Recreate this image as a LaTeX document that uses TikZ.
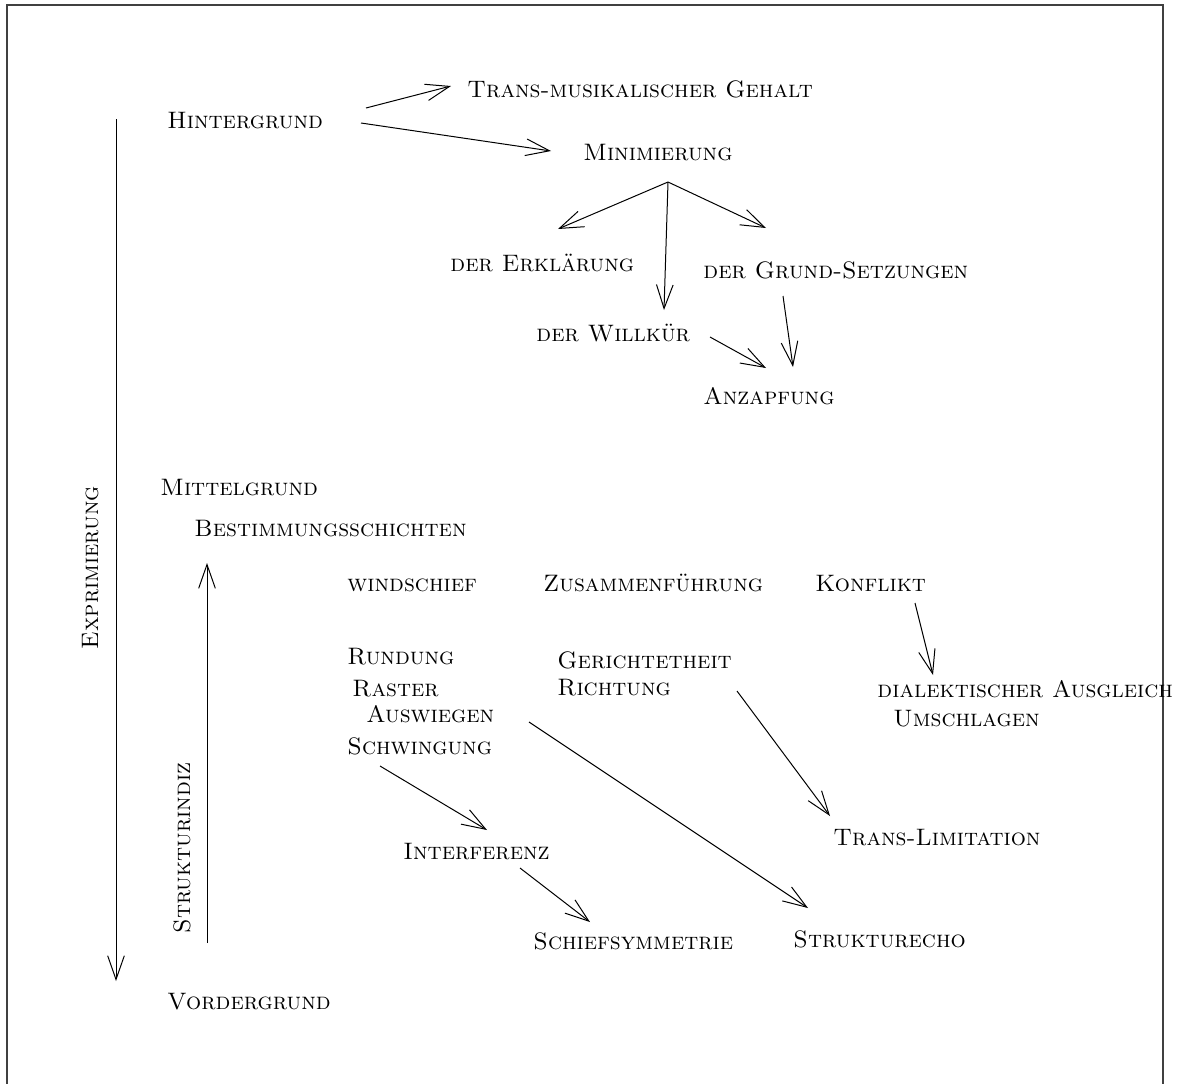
\documentclass[tikz,border=0pt]{standalone}
\usetikzlibrary{arrows.meta}
\begin{document}
\begin{tikzpicture}[x=0.42pt,y=-0.42pt,
  lbl/.style={anchor=base west, inner sep=0pt, font=\scshape},
  arr/.style={-{Straight Barb[length=10pt,width=7pt]}, line width=0.42pt}]
\useasboundingbox (0,0) rectangle (1182,1083);
\begin{scope}
\clip (0,0) rectangle (1182,1083);
\draw[line width=0.5pt, black!75] (7,5) rectangle (1163,1110);
\end{scope}
% nodes
\node[lbl] (hint)  at (167,128) {Hintergrund};
\node[lbl] (trans) at (467,97)  {Trans-musikalischer Gehalt};
\node[lbl] (mini)  at (583,160) {Minimierung};
\node[lbl] (erk)   at (450,271) {der Erklärung};
\node[lbl] (grund) at (703,278) {der Grund-Setzungen};
\node[lbl] (will)  at (536,341) {der Willkür};
\node[lbl] (anz)   at (703,404) {Anzapfung};
\node[lbl] (mittel) at (160,495) {Mittelgrund};
\node[lbl] (best)  at (194,536) {Bestimmungsschichten};
\node[lbl] (wind)  at (347,591) {windschief};
\node[lbl] (zus)   at (543,591) {Zusammenführung};
\node[lbl] (konf)  at (815,591) {Konflikt};
\node[lbl] (rund)  at (347,664) {Rundung};
\node[lbl] (geri)  at (557,668) {Gerichtetheit};
\node[lbl] (rast)  at (352,696) {Raster};
\node[lbl] (richt) at (557,695) {Richtung};
\node[lbl] (dial)  at (877,697) {dialektischer Ausgleich};
\node[lbl] (ausw)  at (366,722) {Auswiegen};
\node[lbl] (umsch) at (893,726) {Umschlagen};
\node[lbl] (schw)  at (347,754) {Schwingung};
\node[lbl] (inter) at (403,859) {Interferenz};
\node[lbl] (tlim)  at (833,845) {Trans-Limitation};
\node[lbl] (schief) at (533,949) {Schiefsymmetrie};
\node[lbl] (echo)  at (793,947) {Strukturecho};
\node[lbl] (vord)  at (167,1009) {Vordergrund};
\node[lbl, rotate=90] (expr) at (98,650) {Exprimierung};
\node[lbl, rotate=90] (struk) at (190,934) {Strukturindiz};
% axis arrows
\coordinate (extop) at (116,119);
\coordinate (exbot) at (116,981);
\coordinate (stbot) at (207,943);
\coordinate (sttop) at (207,563);
\draw[arr] (extop) -- (exbot);
\draw[arr] (stbot) -- (sttop);
% connectors
\draw[arr] ([shift={(199,-20)}]hint.base west) -- ([shift={(-16,-11)}]trans.base west);
\draw[arr] ([shift={(194,-5)}]hint.base west) -- ([shift={(-32,-9)}]mini.base west);
\draw[arr] ([shift={(85,22)}]mini.base west) -- ([shift={(108,-42)}]erk.base west);
\draw[arr] ([shift={(85,22)}]mini.base west) -- ([shift={(128,-31)}]will.base west);
\draw[arr] ([shift={(85,22)}]mini.base west) -- ([shift={(63,-50)}]grund.base west);
\draw[arr] ([shift={(174,-4)}]will.base west) -- ([shift={(63,-36)}]anz.base west);
\draw[arr] ([shift={(80,18)}]grund.base west) -- ([shift={(90,-37)}]anz.base west);
\draw[arr] ([shift={(100,12)}]konf.base west) -- ([shift={(56,-22)}]dial.base west);
\draw[arr] ([shift={(163,0)}]ausw.base west) -- ([shift={(15,-39)}]echo.base west);
\draw[arr] ([shift={(180,-4)}]richt.base west) -- ([shift={(-3,-29)}]tlim.base west);
\draw[arr] ([shift={(33,12)}]schw.base west) -- ([shift={(84,-29)}]inter.base west);
\draw[arr] ([shift={(117,9)}]inter.base west) -- ([shift={(57,-27)}]schief.base west);
\end{tikzpicture}
\end{document}
